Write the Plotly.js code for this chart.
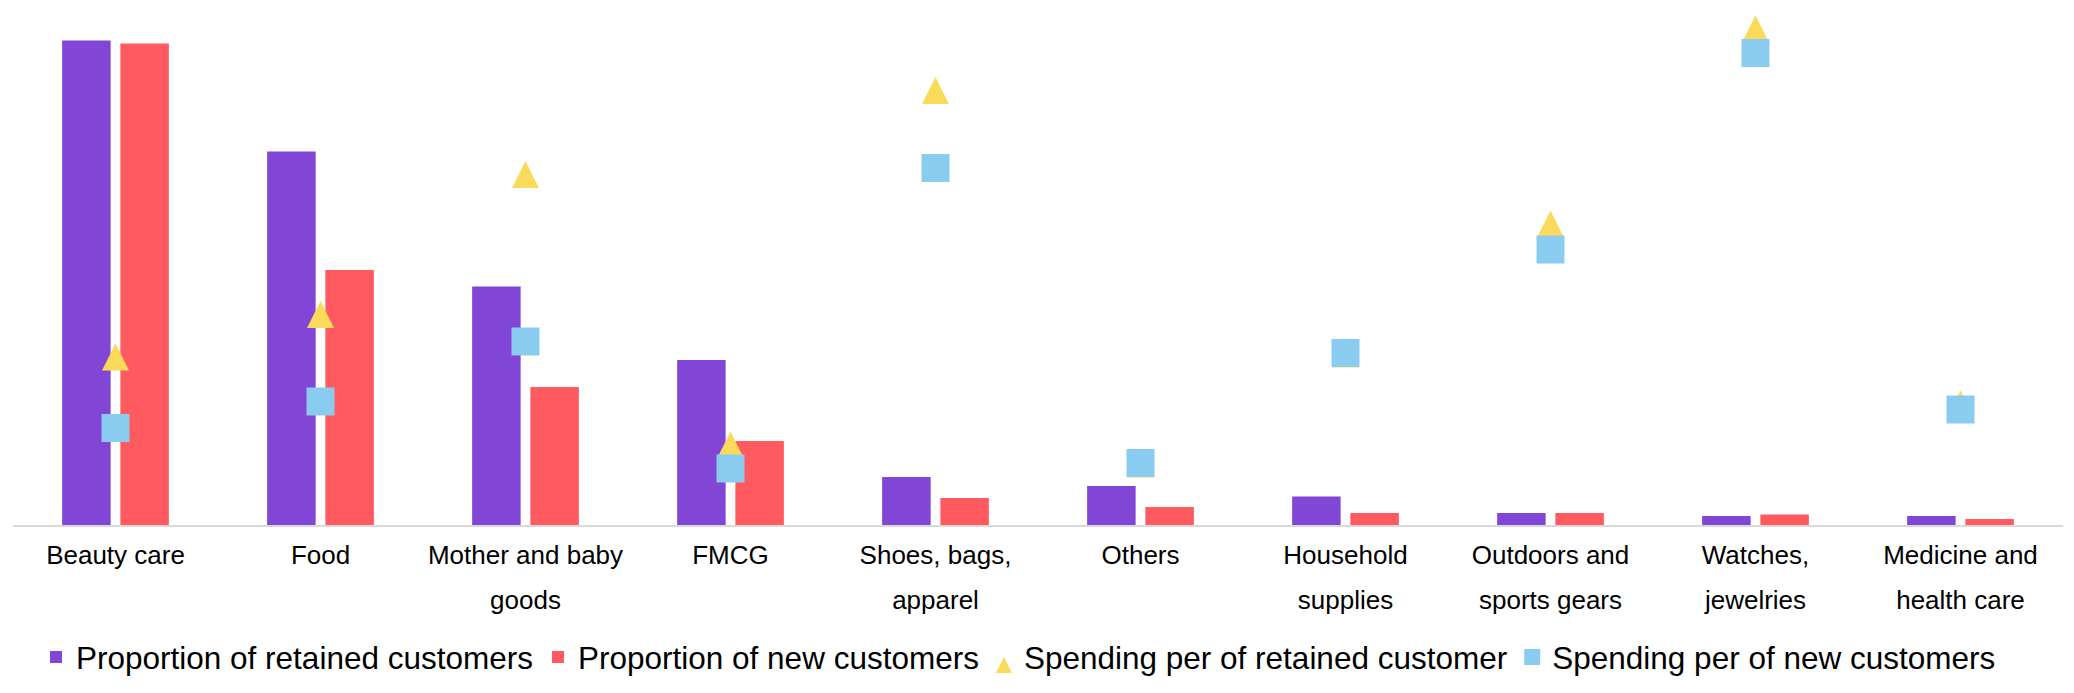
<!DOCTYPE html>
<html>
<head>
<meta charset="utf-8">
<script src="https://cdn.plot.ly/plotly-3.0.1.min.js"></script>
<style>
  html, body { margin: 0; padding: 0; background: #ffffff; }
  #chart { width: 2074px; height: 693px; }
</style>
</head>
<body>
<div id="chart"></div>
<script>
// ---- data ----
const categories = [
  "Beauty care", "Food", "Mother and baby goods", "FMCG", "Shoes, bags, apparel",
  "Others", "Household supplies", "Outdoors and sports gears", "Watches, jewelries",
  "Medicine and health care"
];
// tick labels, first and second line
const tickLine1 = [
  "Beauty care", "Food", "Mother and baby", "FMCG", "Shoes, bags,",
  "Others", "Household", "Outdoors and", "Watches,", "Medicine and"
];
const tickLine2 = [
  "", "", "goods", "", "apparel",
  "", "supplies", "sports gears", "jewelries", "health care"
];

// proportions (%), primary axis
const retainedShare = [32.3, 24.9, 15.9, 11.0, 3.2, 2.6, 1.9, 0.8, 0.6, 0.6];
const newShare      = [32.1, 17.0, 9.2, 5.6, 1.8, 1.2, 0.8, 0.8, 0.7, 0.4];

// spending per customer, secondary axis
const retainedSpend = [363, 448, 728, 187, 896, 149, 369, 629, 1019, 269];
const newSpend      = [194, 247, 367, 113, 714, 124, 344, 551, 944, 231];

const seriesNames = [
  "Proportion of retained customers",
  "Proportion of new customers",
  "Spending per of retained customer",
  "Spending per of new customers"
];

// ---- styles ----
const COL_PURPLE = "#8246D7";
const COL_RED = "#FF5A5F";
const COL_YELLOW = "#FADA5A";
const COL_BLUE = "#8ACBF0";
const FONT = "Liberation Sans, Arial, Helvetica, sans-serif";

const traces = [
  {
    type: "bar", name: seriesNames[0], x: categories, y: retainedShare,
    xaxis: "x", yaxis: "y",
    marker: { color: COL_PURPLE, line: { width: 0 } }, hoverinfo: "skip"
  },
  {
    type: "bar", name: seriesNames[1], x: categories, y: newShare,
    xaxis: "x", yaxis: "y",
    marker: { color: COL_RED, line: { width: 0 } }, hoverinfo: "skip"
  },
  {
    type: "scatter", mode: "markers", name: seriesNames[2], x: categories, y: retainedSpend,
    xaxis: "x2", yaxis: "y2", cliponaxis: false,
    marker: { symbol: "arrow-up", size: 27, color: COL_YELLOW, line: { width: 0 } },
    hoverinfo: "skip"
  },
  {
    type: "scatter", mode: "markers", name: seriesNames[3], x: categories, y: newSpend,
    xaxis: "x2", yaxis: "y2", cliponaxis: false,
    marker: { symbol: "square", size: 28, color: COL_BLUE, line: { width: 0 } },
    hoverinfo: "skip"
  }
];

const tickFont = { family: FONT, size: 26, color: "#000000" };

const layout = {
  width: 2074, height: 693,
  paper_bgcolor: "#ffffff", plot_bgcolor: "#ffffff",
  margin: { l: 13, r: 11, t: 0, b: 168 },
  barmode: "group", bargap: 0.432, bargroupgap: 0.167,
  font: { family: FONT, color: "#000000" },
  showlegend: true,
  legend: {
    orientation: "h", xref: "container", yref: "container",
    x: 36 / 2074, xanchor: "left", y: 36 / 693, yanchor: "middle",
    font: { family: FONT, size: 31.5, color: "#000000" },
    traceorder: "normal", bgcolor: "rgba(0,0,0,0)", borderwidth: 0
  },
  xaxis: {
    type: "category", range: [-0.5, categories.length - 0.5],
    tickmode: "array", tickvals: categories, ticktext: tickLine1,
    showline: true, linecolor: "#d9d9d9", linewidth: 1.5,
    ticks: "", showgrid: false, zeroline: false,
    tickfont: tickFont, ticklabelstandoff: 6, anchor: "y", fixedrange: true
  },
  yaxis: {
    range: [0, 35], showgrid: false, zeroline: false, showline: false,
    showticklabels: false, ticks: "", fixedrange: true
  },
  xaxis2: {
    type: "category", range: [-0.5, categories.length - 0.5],
    overlaying: "x", anchor: "y2", side: "bottom",
    tickmode: "array", tickvals: categories, ticktext: tickLine2,
    showline: false, ticks: "", showgrid: false, zeroline: false,
    tickfont: tickFont, ticklabelstandoff: 57, fixedrange: true
  },
  yaxis2: {
    range: [0, 1050], overlaying: "y", anchor: "x2", side: "right",
    showgrid: false, zeroline: false, showline: false,
    showticklabels: false, ticks: "", fixedrange: true
  }
};

Plotly.newPlot("chart", traces, layout, { staticPlot: true, displayModeBar: false });
</script>
</body>
</html>
